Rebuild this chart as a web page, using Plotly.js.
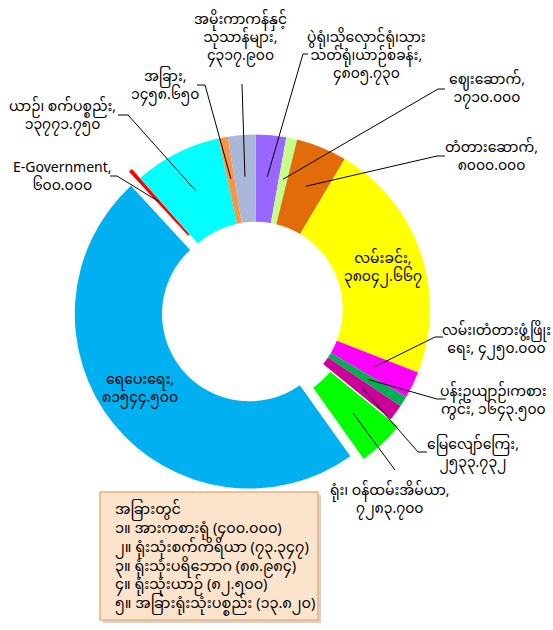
<!DOCTYPE html>
<html>
<head>
<meta charset="utf-8">
<script src="https://cdn.plot.ly/plotly-3.0.1.min.js"></script>
<style>
  html, body { margin: 0; padding: 0; background: #fff; }
  #chart { width: 553px; height: 630px; }
</style>
</head>
<body>
<div id="chart"></div>
<script>
// slices, clockwise from 12 o'clock
const categories = [
    'ပွဲရုံ၊သိုလှောင်ရုံ၊သား<br>သတ်ရုံ၊ယာဉ်စခန်း',
    'ဈေးဆောက်',
    'တံတားဆောက်',
    'လမ်းခင်း',
    'လမ်း၊တံတားဖွံ့ဖြိုး<br>ရေး',
    'ပန်းဥယျာဉ်၊ကစား<br>ကွင်း',
    'မြေလျော်ကြေး',
    'ရုံး၊ ဝန်ထမ်းအိမ်ယာ',
    'ရေပေးရေး',
    'E-Government',
    'ယာဉ်၊ စက်ပစ္စည်း',
    'အခြား',
    'အမိုးကာကန်နှင့်<br>သုသာန်များ'
];
const values = [4805.730, 1710.000, 8000.000, 38042.667, 4250.000, 1643.500, 2533.732,
                7283.700, 81544.500, 600.000, 13771.750, 1458.650, 4317.900];

// breakdown of "other"
const otherTitle = 'အခြားတွင်';
const otherItems = ['အားကစားရုံ', 'ရုံးသုံးစက်ကိရိယာ', 'ရုံးသုံးပရိဘောဂ', 'ရုံးသုံးယာဉ်', 'အခြားရုံးသုံးပစ္စည်း'];
const otherValues = [400.000, 73.347, 88.984, 82.500, 13.820];

const sliceColors = ['#9966FF', '#C6FF88', '#E36C0A', '#FFFF00', '#FF00FF', '#00B050', '#CC0099',
                     '#00FF00', '#00B0F0', '#FF0000', '#00FFFF', '#F79646', '#A9B8D8'];
const pulls = [0, 0, 0, 0, 0, 0, 0, 0.06, 0.046, 0.07, 0, 0, 0];

// label placement in pixels: [textX, textY, lineStartX, lineStartY, elbowX, separator]
// null line start = label drawn inside the slice
const labelPos = [
    [366, 56, 308, 54, 303, '<br>'],
    [487, 90, 445, 89, 438, '<br>'],
    [491, 157, 445, 156, 437, '<br>'],
    [383, 268, null, null, null, '<br>'],
    [496, 340, 443, 337, 435, ' '],
    [493, 401, 446, 399, 437, ' '],
    [473, 454, 427, 452, 418, '<br>'],
    [390, 500, 395, 470, null, '<br>'],
    [140, 389, null, null, null, '<br>'],
    [62, 177, 110, 176, 117, '<br>'],
    [62, 116, 118, 115, 128, '<br>'],
    [165, 87, 197, 85, 205, '<br>'],
    [240, 38, 242, 84, null, '<br>']
];

const W = 553, H = 630;
const CX = 255.5, CY = 309, R = 174.5;
const FONT = "'Noto Sans Myanmar', 'Myanmar Text', Padauk, 'Liberation Sans', sans-serif";

const mmDigits = '၀၁၂၃၄၅၆၇၈၉';
function toMyanmar(v) {
    return v.toFixed(3).replace(/[0-9]/g, d => mmDigits[+d]);
}
const px = x => x / W;
const py = y => 1 - y / H;

const maxPull = Math.max(...pulls);
const half = R * (1 + maxPull);

const trace = {
    type: 'pie',
    labels: categories.map(c => c.replace('<br>', '')),
    values: values,
    sort: false,
    direction: 'clockwise',
    rotation: 0,
    hole: 0.5,
    pull: pulls,
    textinfo: 'none',
    marker: { colors: sliceColors, line: { width: 0 } },
    domain: { x: [px(CX - half), px(CX + half)], y: [py(CY + half), py(CY - half)] },
    showlegend: false
};

const total = values.reduce((a, b) => a + b, 0);
const annotations = [];
const shapes = [];
let cum = 0;
values.forEach((v, i) => {
    const mid = (cum + v / 2) / total * 2 * Math.PI;
    cum += v;
    const [tx, ty, lx, ly, ex, sep] = labelPos[i];
    annotations.push({
        xref: 'paper', yref: 'paper', x: px(tx), y: py(ty),
        xanchor: 'center', yanchor: 'middle', showarrow: false,
        text: categories[i] + ',' + sep + toMyanmar(v),
        font: { family: FONT, size: 14, color: '#000' }
    });
    if (lx === null) return;
    const rr = R * (0.76 + pulls[i]);
    const ax = CX + rr * Math.sin(mid), ay = CY - rr * Math.cos(mid);
    let path = 'M' + px(lx) + ',' + py(ly);
    if (ex !== null) path += ' L' + px(ex) + ',' + py(ly);
    path += ' L' + px(ax) + ',' + py(ay);
    shapes.push({ type: 'path', xref: 'paper', yref: 'paper', path: path,
                  line: { color: '#000', width: 1 } });
});

// "other" breakdown box
shapes.push({ type: 'rect', xref: 'paper', yref: 'paper',
    x0: px(103), x1: px(321), y0: py(623), y1: py(495),
    fillcolor: 'rgba(150,120,100,0.35)', line: { width: 0 } });
shapes.push({ type: 'rect', xref: 'paper', yref: 'paper',
    x0: px(100), x1: px(318), y0: py(620), y1: py(492),
    fillcolor: '#FCE3CB', line: { color: '#EDB07C', width: 1.5 } });

const boxLines = [otherTitle].concat(otherItems.map((n, i) =>
    mmDigits[i + 1] + '။ ' + n + ' (' + toMyanmar(otherValues[i]) + ')'));
annotations.push({
    xref: 'paper', yref: 'paper', x: px(113), y: py(557),
    xanchor: 'left', yanchor: 'middle', align: 'left', showarrow: false,
    text: boxLines.join('<br>'),
    font: { family: FONT, size: 14.5, color: '#000' }
});

const layout = {
    width: W, height: H,
    margin: { l: 0, r: 0, t: 0, b: 0 },
    paper_bgcolor: '#fff',
    plot_bgcolor: '#fff',
    showlegend: false,
    annotations: annotations,
    shapes: shapes
};

Plotly.newPlot('chart', [trace], layout, { displayModeBar: false, staticPlot: true });
</script>
</body>
</html>
